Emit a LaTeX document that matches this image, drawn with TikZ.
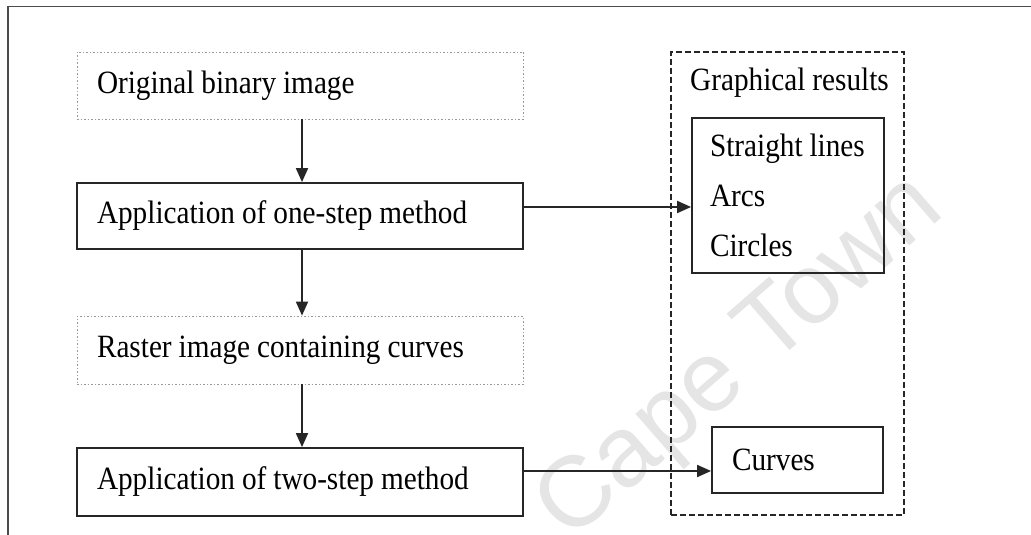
\documentclass[tikz,border=0pt]{standalone}
\usepackage{fontspec}
\setmainfont[FakeStretch=0.9, WordSpace=0.95]{Liberation Serif}
\setsansfont{Liberation Sans}
\usetikzlibrary{arrows.meta}
\tikzset{
  txt/.style={font=\fontsize{32.5}{50}\selectfont},
  solidbox/.style={txt, draw=black!85, line width=1.8pt, rectangle, align=flush left, inner xsep=0pt, inner ysep=0pt},
  faintbox/.style={txt, draw=black!40, line width=0.8pt, dash pattern=on 1.5pt off 2pt, rectangle, align=flush left, inner xsep=0pt, inner ysep=0pt},
  groupbox/.style={draw=black!85, line width=1.8pt, dash pattern=on 6pt off 3pt, rectangle, inner sep=0pt},
  flow/.style={draw=black!85, line width=1.8pt, -{Triangle[length=14pt,width=12pt]}},
  frameline/.style={draw=black!70, line width=1.8pt}
}
\begin{document}
\begin{tikzpicture}[x=1pt, y=-1pt]
\useasboundingbox (0,0) rectangle (1031,535);
\fill[white] (0,0) rectangle (1031,535);

% watermark behind everything
\node[font=\fontsize{100}{100}\sffamily\selectfont, text=black!10, rotate=41] (wm) at (742,360) {Cape Town};

% page frame (top and left edges)
\coordinate (fc) at (8,6.5);
\coordinate (ftr) at (1031,6.5);
\coordinate (fbl) at (8,535);
\draw[frameline] (ftr) -- (fc) -- (fbl);

% left column: process chain
\node[faintbox, minimum width=446pt, minimum height=67pt, text width=406pt] (orig) at (300,85.5) {Original binary image};
\node[solidbox, minimum width=446pt, minimum height=66pt, text width=406pt] (one) at (300,216) {Application of one-step method};
\node[faintbox, minimum width=446pt, minimum height=68pt, text width=406pt] (raster) at (300,350) {Raster image containing curves};
\node[solidbox, minimum width=446pt, minimum height=68pt, text width=406pt] (two) at (300,482) {Application of two-step method};

% right column: results
\node[groupbox, minimum width=233pt, minimum height=463pt] (results) at (787.5,283.5) {};
\node[txt, anchor=base west, inner sep=0pt] (grtitle) at (690,90.5) {Graphical results};
\node[solidbox, minimum width=192pt, minimum height=155pt, text width=156pt] (prims) at (788,195.5) {Straight~lines\\Arcs\\Circles};
\node[solidbox, minimum width=171pt, minimum height=66pt, text width=131pt] (curves) at (797.5,460) {Curves};

% connectors
\coordinate (oneout) at ([yshift=9pt]one.east);
\coordinate (twoout) at ([yshift=11pt]two.east);
\draw[flow] ([xshift=2pt]orig.south) -- ([xshift=2pt]one.north);
\draw[flow] ([xshift=2pt]one.south) -- ([xshift=2pt]raster.north);
\draw[flow] ([xshift=2pt]raster.south) -- ([xshift=2pt]two.north);
\draw[flow] (oneout) -- (oneout -| prims.west);
\draw[flow] (twoout) -- (twoout -| curves.west);
\end{tikzpicture}
\end{document}
